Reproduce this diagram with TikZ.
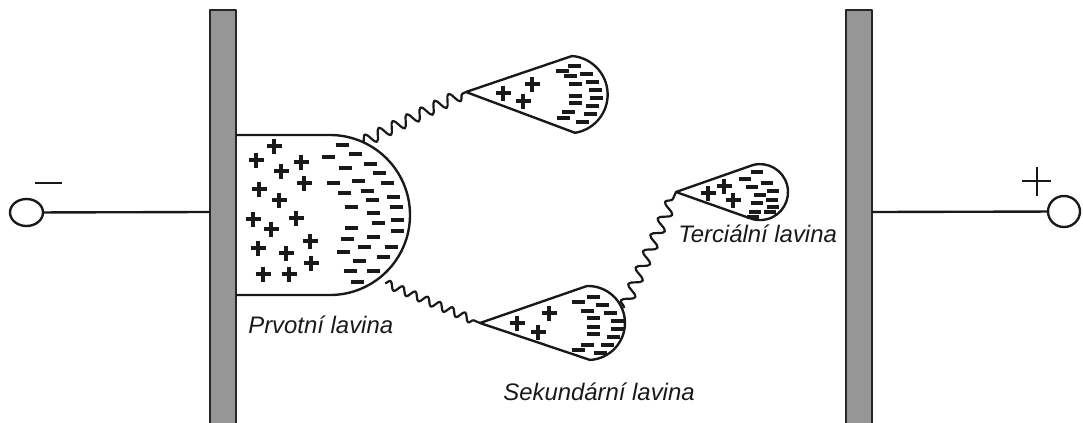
\documentclass[tikz,border=0pt]{standalone}
\usepackage{fontspec}
\setmainfont{Liberation Sans}
\usetikzlibrary{decorations.pathmorphing,shapes.geometric}
\definecolor{deskagray}{rgb}{0.59,0.59,0.59}

\tikzset{
  kladny/.pic={\draw[znak] (-7.5,0) -- (7.5,0) (0,-7.5) -- (0,7.5);},
  zaporny/.pic={\draw[znak] (-6.5,0) -- (6.5,0);},
}

\begin{document}
\begin{tikzpicture}[x=0.02cm,y=-0.02cm,line join=round,
    obrys/.style={line width=1.35pt,draw=black!90},
    deska/.style={fill=deskagray,draw=black!85,line width=0.8pt},
    znak/.style={line width=1.75pt,draw=black!90},
    foton/.style={line width=1.25pt,draw=black!90,decorate},
    popis/.style={anchor=base west,inner sep=0pt,text=black!90,
                  font=\itshape\fontsize{13.6}{16}\selectfont}]
  \useasboundingbox (0,0) rectangle (1083,423);

  % elektrody
  \draw[deska] (210,10) rectangle (236,440);
  \draw[deska] (846,10) rectangle (872,440);
  \coordinate (katoda) at (210,212);
  \coordinate (anoda) at (872,212);

  % svorky
  \node[obrys,ellipse,minimum width=0.66cm,minimum height=0.54cm,inner sep=0pt]
    (svminus) at (26.5,212.5) {};
  \node[obrys,ellipse,minimum width=0.64cm,minimum height=0.62cm,inner sep=0pt]
    (svplus) at (1064,211.5) {};
  \draw[obrys] (svminus) -- (katoda);
  \draw[obrys] (anoda) -- (svplus);
  \draw[obrys] (35,183) -- (62,183);
  \draw[obrys] (1022,181) -- (1051,181) (1037,167) -- (1037,196);

  % prvotni lavina
  \draw[obrys] (236,135) -- (330,135) arc[start angle=-90,end angle=90,radius=80]
    -- (236,295);
  \foreach \p in {(274,146),(256,160),(301,162),(281,171),(304,183),(259,189),
                  (279,200),(253,219),(296,218),(271,229),(310,241),(258,248),
                  (286,253),(311,263),(263,274),(289,274)}
    \pic at \p {kladny};
  \foreach \p in {(342,145),(328,157),(355,154),(345,168),(370,164),(379,173),
                  (333,183),(358,181),(387,183),(344,193),(367,191),(393,197),
                  (351,207),(372,200),(396,207),(373,213),(351,228),(378,223),
                  (397,220),(397,231),(347,239),(373,237),(364,247),(391,247),
                  (343,252),(359,261),(383,257),(350,271),(373,271),(357,282)}
    \pic at \p {zaporny};
  \coordinate (z1) at (363,142);
  \coordinate (z2) at (385,283);

  % sekundarni lavina nahore
  \draw[obrys] (466,92) coordinate (hrot1) -- (572,56)
    arc[start angle=-85.5,end angle=81,radius=38.7] -- cycle;
  \foreach \p in {(503,93),(532,84),(523,101)}
    \pic at \p {kladny};
  \foreach \p in {(574,66),(562,71),(570,76),(586,74),(592,82),(575,84),
                  (595,90),(575,96),(596,98),(575,103),(592,106),(568,112),
                  (590,114),(563,118),(582,122)}
    \pic at \p {zaporny};

  % sekundarni lavina dole
  \draw[obrys] (480,323) coordinate (hrot2) -- (587,286)
    arc[start angle=-91.5,end angle=86.9,radius=37] -- cycle;
  \foreach \p in {(517,323),(549,313),(538,332)}
    \pic at \p {kladny};
  \foreach \p in {(578,302),(593,297),(602,305),(587,311),(610,313),(593,318),
                  (617,321),(593,327),(617,329),(593,334),(613,337),(587,345),
                  (607,345),(578,350),(600,353)}
    \pic at \p {zaporny};
  \coordinate (z3) at (624,308);

  % terciarni lavina
  \draw[obrys] (676,192) coordinate (hrot3) -- (753,165)
    arc[start angle=-104.5,end angle=111,radius=28] -- cycle;
  \foreach \p in {(708,193),(724,186),(733,200)}
    \pic at \p {kladny};
  \foreach \p in {(757,172),(745,179),(767,183),(752,187),(773,191),(760,195),
                  (772,200),(757,203),(773,207),(755,212),(770,212),(753,217)}
    \pic[scale=0.85] at \p {zaporny};

  % fotony
  \draw[foton,decoration={snake,amplitude=1.2mm,segment length=3.1mm,post length=0.5mm}]
    (z1) -- (hrot1);
  \draw[foton,decoration={snake,amplitude=0.8mm,segment length=2.7mm,post length=0.5mm}]
    (z2) -- (hrot2);
  \draw[foton,decoration={snake,amplitude=1.2mm,segment length=3.6mm,post length=0.5mm}]
    (z3) -- (hrot3);

  % popisky
  \node[popis] (prvotni) at (248,333) {Prvotní lavina};
  \node[popis] (sekundarni) at (503,400) {Sekundární lavina};
  \node[popis] (terciarni) at (678,242) {Terciální lavina};
\end{tikzpicture}
\end{document}
